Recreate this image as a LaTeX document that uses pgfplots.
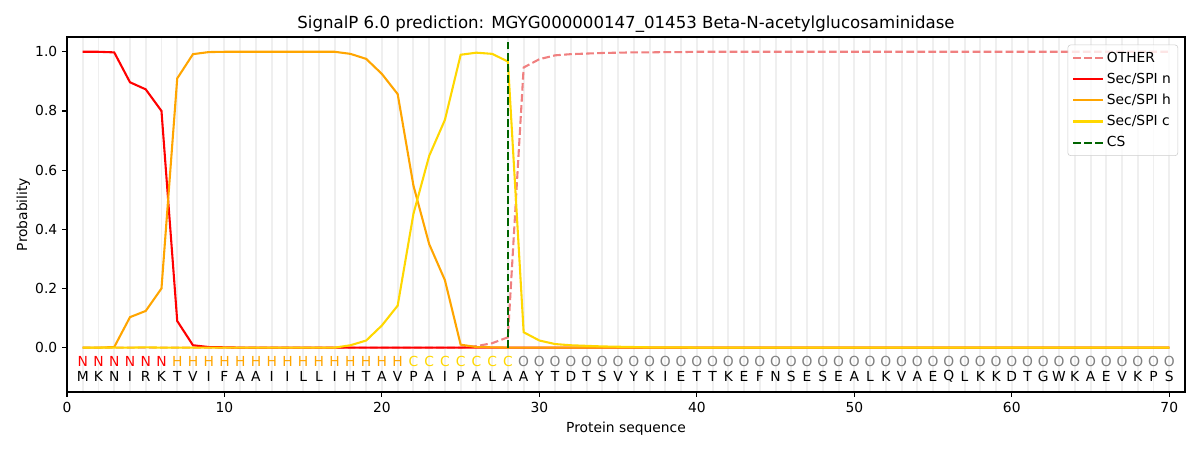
\documentclass[border=0pt]{standalone}
\usepackage{pgfplots}
\pgfplotsset{compat=1.18}
\usepackage{pgfplotstable}
\usepackage{fontspec}
\setmainfont{DejaVu Sans}
\definecolor{cother}{HTML}{F08080}
\definecolor{cn}{HTML}{FF0000}
\definecolor{ch}{HTML}{FFA500}
\definecolor{cc}{HTML}{FFD700}
\definecolor{ccs}{HTML}{006400}
\definecolor{cgridl}{HTML}{EFEFEF}
\definecolor{cO}{HTML}{808080}
\pgfplotstableread{
x other n h c
1 0 1.000 0.000 0.000
2 0 1.000 0.000 0.000
3 0 0.998 0.002 0.000
4 0 0.897 0.103 0.000
5 0 0.873 0.124 0.001
6 0 0.800 0.200 0.000
7 0 0.090 0.910 0.000
8 0 0.008 0.992 0.000
9 0 0.002 0.999 0.000
10 0 0.001 1.000 0.000
11 0 0.000 1.000 0.000
12 0 0.000 1.000 0.000
13 0 0.000 1.000 0.000
14 0 0.000 1.000 0.000
15 0 0.000 1.000 0.000
16 0 0.000 1.000 0.000
17 0 0.000 1.000 0.000
18 0 0.000 0.993 0.008
19 0 0.000 0.976 0.024
20 0 0.000 0.925 0.075
21 0 0.000 0.857 0.142
22 0 0.000 0.548 0.452
23 0 0.000 0.350 0.648
24 0 0.000 0.228 0.770
25 0 0.000 0.010 0.990
26 0.005 0.000 0.002 0.997
27 0.015 0.000 0.001 0.993
28 0.035 0.000 0.000 0.967
29 0.947 0.000 0.000 0.052
30 0.975 0.000 0.000 0.024
31 0.988 0.000 0.000 0.012
32 0.992 0.000 0.000 0.008
33 0.994 0.000 0.000 0.006
34 0.996 0.000 0.000 0.004
35 0.997 0.000 0.000 0.003
36 0.998 0.000 0.000 0.002
37 0.998 0.000 0.000 0.001
38 0.999 0.000 0.000 0.001
39 0.999 0.000 0.000 0.001
40 1.000 0.000 0.000 0.000
41 1.000 0.000 0.000 0.000
42 1.000 0.000 0.000 0.000
43 1.000 0.000 0.000 0.000
44 1.000 0.000 0.000 0.000
45 1.000 0.000 0.000 0.000
46 1.000 0.000 0.000 0.000
47 1.000 0.000 0.000 0.000
48 1.000 0.000 0.000 0.000
49 1.000 0.000 0.000 0.000
50 1.000 0.000 0.000 0.000
51 1.000 0.000 0.000 0.000
52 1.000 0.000 0.000 0.000
53 1.000 0.000 0.000 0.000
54 1.000 0.000 0.000 0.000
55 1.000 0.000 0.000 0.000
56 1.000 0.000 0.000 0.000
57 1.000 0.000 0.000 0.000
58 1.000 0.000 0.000 0.000
59 1.000 0.000 0.000 0.000
60 1.000 0.000 0.000 0.000
61 1.000 0.000 0.000 0.000
62 1.000 0.000 0.000 0.000
63 1.000 0.000 0.000 0.000
64 1.000 0.000 0.000 0.000
65 1.000 0.000 0.000 0.000
66 1.000 0.000 0.000 0.000
67 1.000 0.000 0.000 0.000
68 1.000 0.000 0.000 0.000
69 1.000 0.000 0.000 0.000
70 1.000 0.000 0.000 0.000
}\probs
\begin{document}
\begin{tikzpicture}
\begin{axis}[
  scale only axis,
  width=804.96bp, height=255.6bp,
  xmin=0, xmax=71, ymin=-0.15, ymax=1.05,
  xtick={0,10,...,70},
  ytick={0,0.2,...,1.0},
  minor xtick={1,...,70},
  minor tick length=0pt,
  xminorgrids=true,
  minor grid style={cgridl, line width=1.4bp},
  tick align=outside,
  tick pos=left,
  major tick length=3.5bp,
  every tick/.style={black, line width=0.8bp},
  axis line style={line width=0.8bp},
  /pgf/number format/assume math mode=true,
  yticklabel style={/pgf/number format/fixed, /pgf/number format/fixed zerofill, /pgf/number format/precision=1},
  ticklabel style={font=\fontsize{10}{12}\selectfont},
  label style={font=\fontsize{10}{12}\selectfont},
  title style={font=\fontsize{12}{14}\selectfont, yshift=-6.3bp},
  title={SignalP 6.0 prediction: MGYG000000147\_01453 Beta-N-acetylglucosaminidase},
  xlabel={Protein sequence},
  ylabel={Probability},
  xlabel style={yshift=0bp},
  ylabel style={yshift=-3bp},
  legend cell align=left,
  legend style={at={(1,1)}, anchor=north east, xshift=-5bp, yshift=-5.5bp,
    draw=black!20, rounded corners=2bp, fill=white, fill opacity=0.8, text opacity=1,
    font=\fontsize{10}{12}\selectfont, row sep=2.3bp, inner xsep=3bp, inner ysep=3bp},
  legend image code/.code={\draw[#1] (0bp,0bp) -- (21.6bp,0bp);},
]
\addplot[cother, line width=1.5bp, dash pattern=on 5.55bp off 2.4bp] table[x=x, y=other] {\probs};
\addlegendentry{OTHER}
\addplot[cn, line width=1.5bp] table[x=x, y=n] {\probs};
\addlegendentry{Sec/SPI n}
\addplot[ch, line width=1.5bp] table[x=x, y=h] {\probs};
\addlegendentry{Sec/SPI h}
\addplot[cc, line width=1.5bp] table[x=x, y=c] {\probs};
\addlegendentry{Sec/SPI c}
\addplot[ccs, line width=1.5bp, dash pattern=on 5.55bp off 2.4bp] coordinates {(28,0) (28,1.035)};
\addlegendentry{CS}
% region labels
\pgfplotsset{lbl/.style={forget plot, only marks, mark=none, point meta=explicit symbolic, nodes near coords,
  nodes near coords style={anchor=center, inner sep=0pt, font=\fontsize{10}{12}\selectfont, text=#1}}}
\addplot[lbl=cn] coordinates {(1,-0.0475)[N] (2,-0.0475)[N] (3,-0.0475)[N] (4,-0.0475)[N] (5,-0.0475)[N] (6,-0.0475)[N]};
\addplot[lbl=ch] coordinates {(7,-0.0475)[H] (8,-0.0475)[H] (9,-0.0475)[H] (10,-0.0475)[H] (11,-0.0475)[H] (12,-0.0475)[H] (13,-0.0475)[H] (14,-0.0475)[H] (15,-0.0475)[H] (16,-0.0475)[H] (17,-0.0475)[H] (18,-0.0475)[H] (19,-0.0475)[H] (20,-0.0475)[H] (21,-0.0475)[H]};
\addplot[lbl=cc] coordinates {(22,-0.0475)[C] (23,-0.0475)[C] (24,-0.0475)[C] (25,-0.0475)[C] (26,-0.0475)[C] (27,-0.0475)[C] (28,-0.0475)[C]};
\addplot[lbl=cO] coordinates {(29,-0.0475)[O] (30,-0.0475)[O] (31,-0.0475)[O] (32,-0.0475)[O] (33,-0.0475)[O] (34,-0.0475)[O] (35,-0.0475)[O] (36,-0.0475)[O] (37,-0.0475)[O] (38,-0.0475)[O] (39,-0.0475)[O] (40,-0.0475)[O] (41,-0.0475)[O] (42,-0.0475)[O] (43,-0.0475)[O] (44,-0.0475)[O] (45,-0.0475)[O] (46,-0.0475)[O] (47,-0.0475)[O] (48,-0.0475)[O] (49,-0.0475)[O] (50,-0.0475)[O] (51,-0.0475)[O] (52,-0.0475)[O] (53,-0.0475)[O] (54,-0.0475)[O] (55,-0.0475)[O] (56,-0.0475)[O] (57,-0.0475)[O] (58,-0.0475)[O] (59,-0.0475)[O] (60,-0.0475)[O] (61,-0.0475)[O] (62,-0.0475)[O] (63,-0.0475)[O] (64,-0.0475)[O] (65,-0.0475)[O] (66,-0.0475)[O] (67,-0.0475)[O] (68,-0.0475)[O] (69,-0.0475)[O] (70,-0.0475)[O]};
% sequence
\addplot[lbl=black] coordinates {(1,-0.098)[M] (2,-0.098)[K] (3,-0.098)[N] (4,-0.098)[I] (5,-0.098)[R] (6,-0.098)[K] (7,-0.098)[T] (8,-0.098)[V] (9,-0.098)[I] (10,-0.098)[F] (11,-0.098)[A] (12,-0.098)[A] (13,-0.098)[I] (14,-0.098)[I] (15,-0.098)[L] (16,-0.098)[L] (17,-0.098)[I] (18,-0.098)[H] (19,-0.098)[T] (20,-0.098)[A] (21,-0.098)[V] (22,-0.098)[P] (23,-0.098)[A] (24,-0.098)[I] (25,-0.098)[P] (26,-0.098)[A] (27,-0.098)[L] (28,-0.098)[A] (29,-0.098)[A] (30,-0.098)[Y] (31,-0.098)[T] (32,-0.098)[D] (33,-0.098)[T] (34,-0.098)[S] (35,-0.098)[V] (36,-0.098)[Y] (37,-0.098)[K] (38,-0.098)[I] (39,-0.098)[E] (40,-0.098)[T] (41,-0.098)[T] (42,-0.098)[K] (43,-0.098)[E] (44,-0.098)[F] (45,-0.098)[N] (46,-0.098)[S] (47,-0.098)[E] (48,-0.098)[S] (49,-0.098)[E] (50,-0.098)[A] (51,-0.098)[L] (52,-0.098)[K] (53,-0.098)[V] (54,-0.098)[A] (55,-0.098)[E] (56,-0.098)[Q] (57,-0.098)[L] (58,-0.098)[K] (59,-0.098)[K] (60,-0.098)[D] (61,-0.098)[T] (62,-0.098)[G] (63,-0.098)[W] (64,-0.098)[K] (65,-0.098)[A] (66,-0.098)[E] (67,-0.098)[V] (68,-0.098)[K] (69,-0.098)[P] (70,-0.098)[S]};
\end{axis}
\pgfresetboundingbox
\useasboundingbox ([shift={(-48.24bp,-41.76bp)}]current axis.south west) rectangle ([shift={(10.8bp,26.64bp)}]current axis.north east);
\end{tikzpicture}
\end{document}
